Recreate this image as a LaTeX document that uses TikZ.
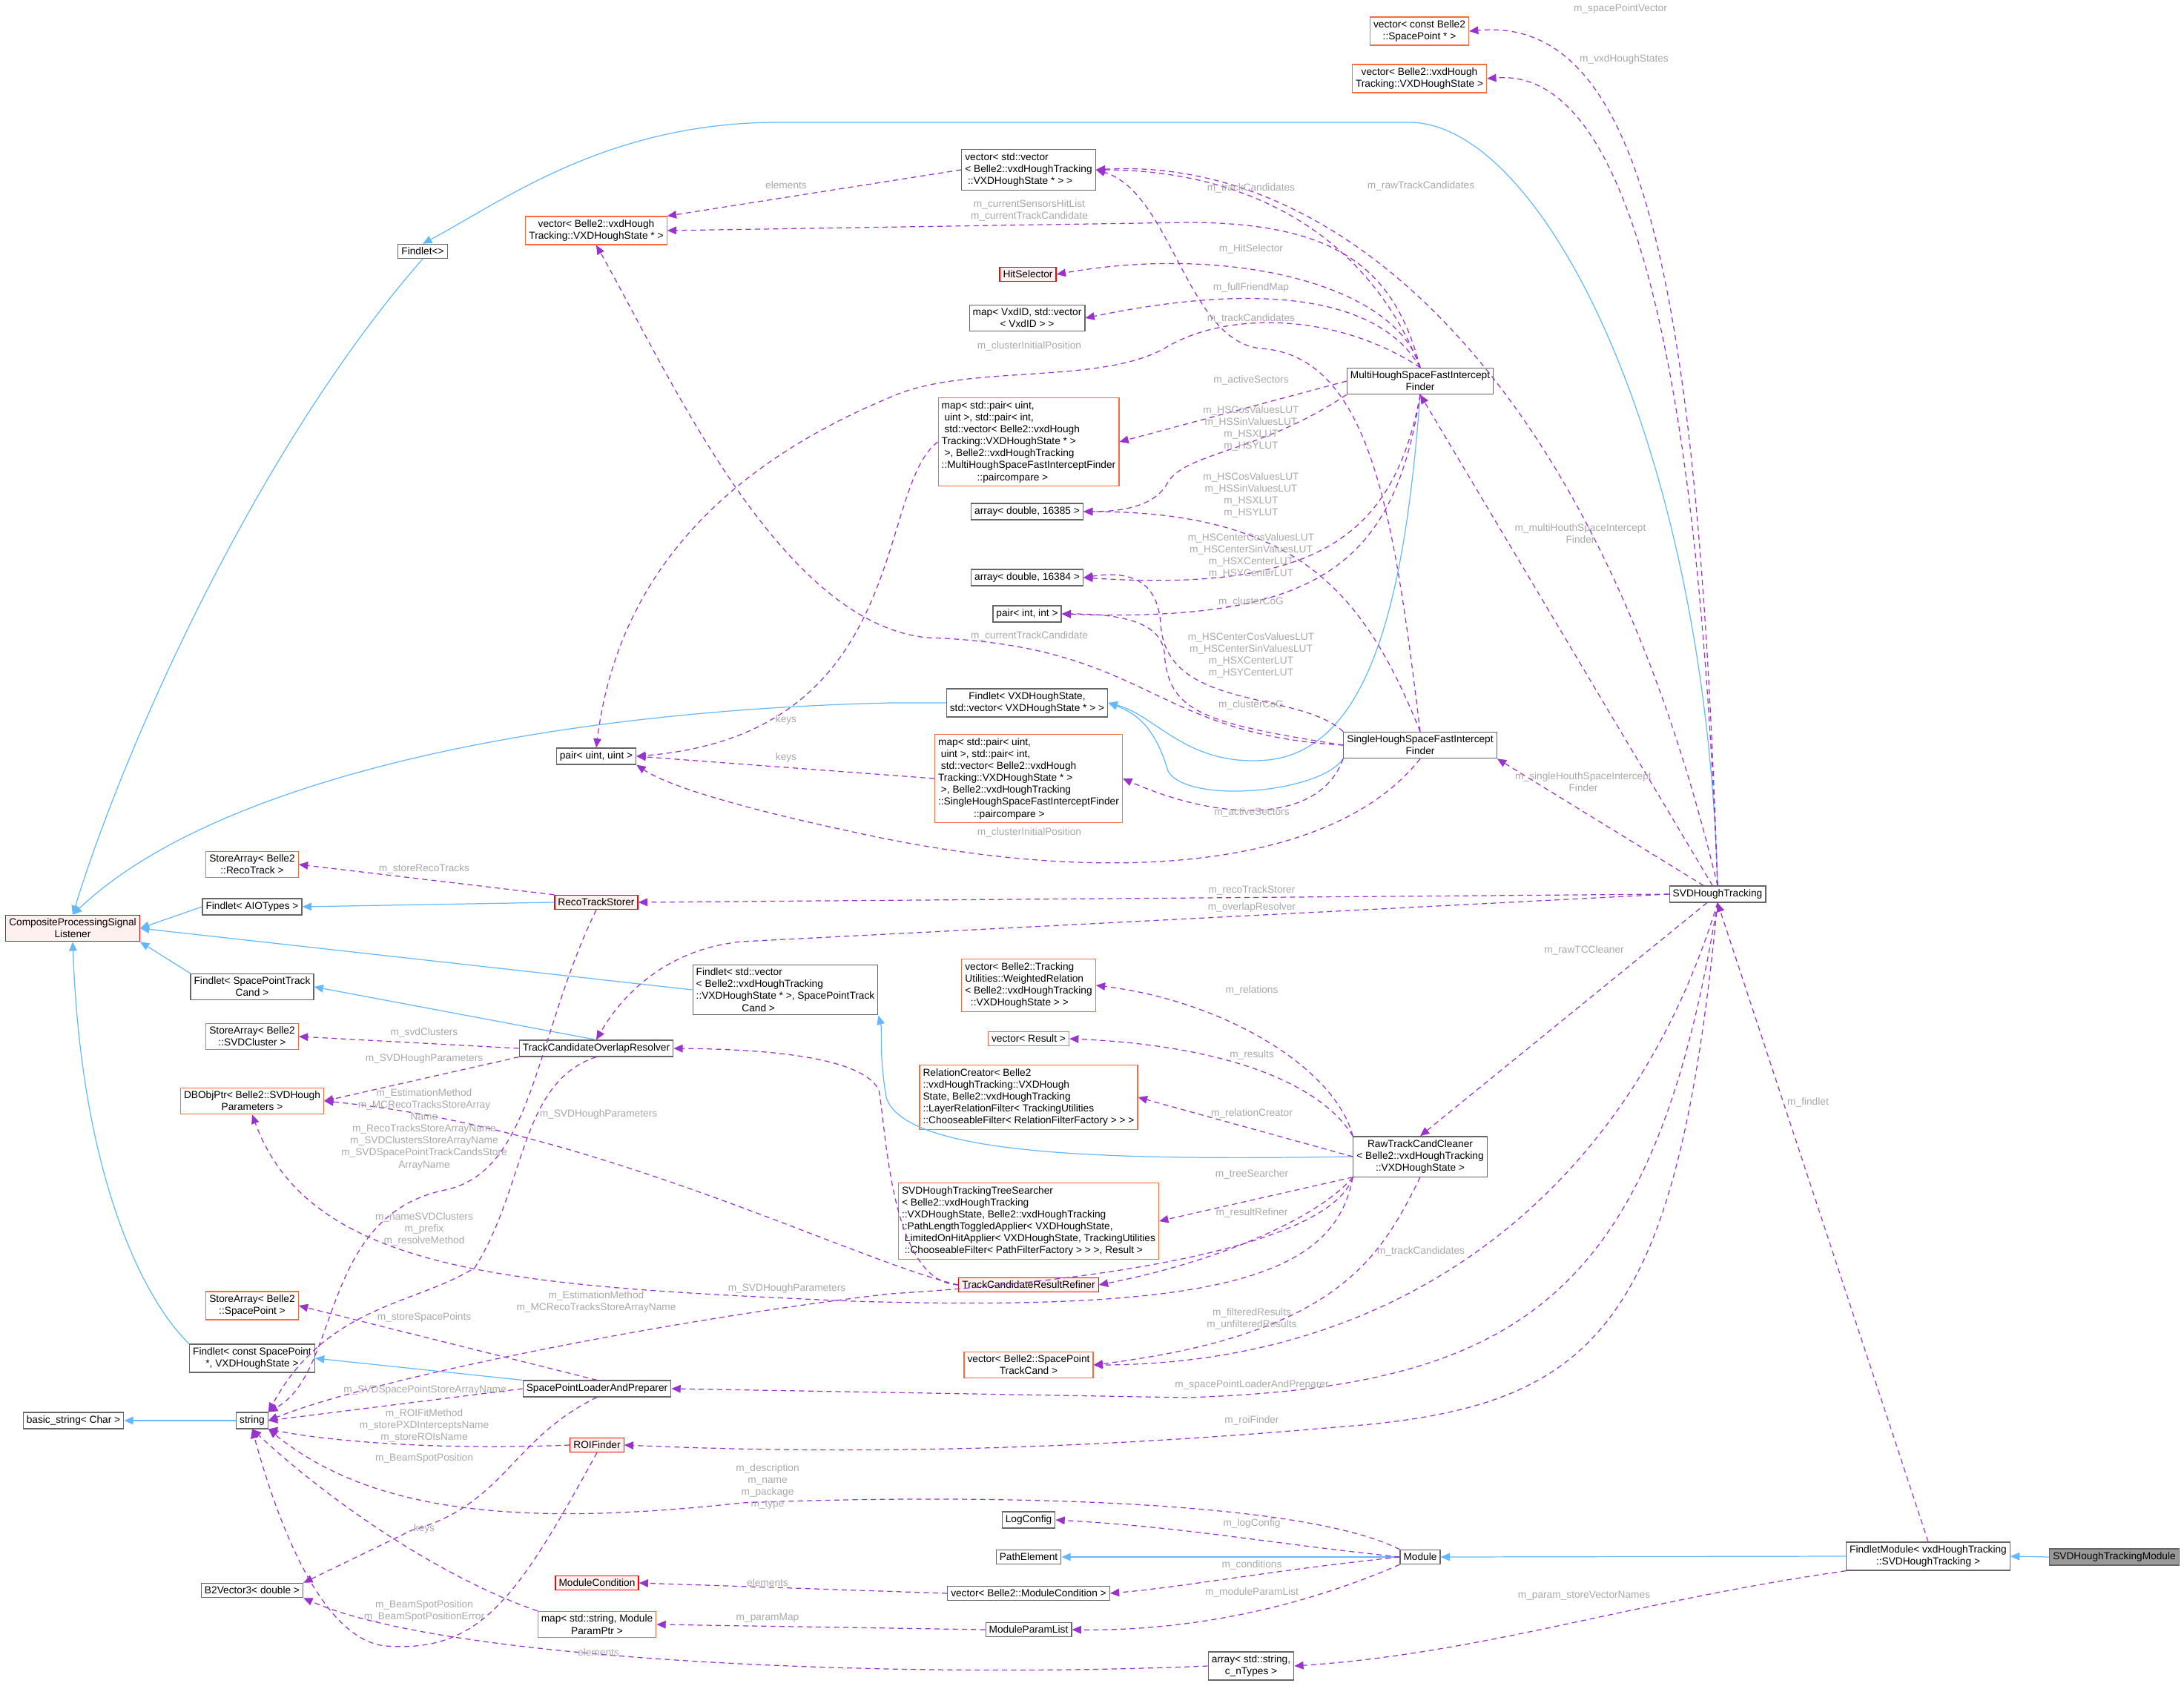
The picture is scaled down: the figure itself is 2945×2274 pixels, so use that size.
\documentclass[tikz,border=0pt]{standalone}
\usepackage{fontspec}
\setmainfont{Liberation Sans}
\usepackage{tikz}
\usetikzlibrary{arrows.meta,calc}
\definecolor{clsgray}{HTML}{666666}
\definecolor{tmplred}{HTML}{FF6A3D}
\definecolor{undocfill}{HTML}{FFF0F0}
\definecolor{inhblue}{HTML}{63B8FF}
\definecolor{usepurple}{HTML}{9A32CD}
\definecolor{lblgray}{HTML}{A8A8A8}
\newcommand{\dxf}{\fontsize{7.8}{9.2}\selectfont}
\tikzstyle{cls}=[rectangle,draw=clsgray,fill=white,inner sep=2.6pt,font=\dxf,align=center,line width=0.7pt]
\tikzstyle{tmpl}=[cls,draw=tmplred]
\tikzstyle{undoc}=[cls,draw=red,fill=undocfill]
\tikzstyle{inh}=[draw=inhblue,line width=0.7pt,-{Triangle[width=6pt,length=7pt]}]
\tikzstyle{use}=[draw=usepurple,line width=0.7pt,dashed,dash pattern=on 4pt off 3pt,-{Triangle[width=6pt,length=7pt]}]
\tikzstyle{lbl}=[text=lblgray,font=\dxf,align=center,inner sep=0]

\begin{document}
\begin{tikzpicture}[x=0.02cm,y=-0.02cm]
\useasboundingbox (0,0) rectangle (2945,2274);
\node[tmpl] (vcsp) at (1914,42) {vector< const Belle2\\::SpacePoint * >};
\node[tmpl] (vvhs) at (1914,106) {vector< Belle2::vxdHough\\Tracking::VXDHoughState >};
\node[cls,align=left] (vvec) at (1387,229) {vector< std::vector\\< Belle2::vxdHoughTracking\\ \ ::VXDHoughState * > >};
\node[cls] (findletbase) at (570,339) {Findlet<>};
\node[tmpl] (vvxd) at (804,311) {vector< Belle2::vxdHough\\Tracking::VXDHoughState * >};
\node[undoc] (hitsel) at (1386,370) {HitSelector};
\node[cls] (mapvxd) at (1385,429) {map< VxdID, std::vector\\< VxdID > >};
\node[cls] (multi) at (1915,514) {MultiHoughSpaceFastIntercept\\Finder};
\node[tmpl,align=left] (mapmulti) at (1387,596) {map< std::pair< uint,\\ \ uint >, std::pair< int,\\ \ std::vector< Belle2::vxdHough\\Tracking::VXDHoughState * >\\ \ >, Belle2::vxdHoughTracking\\::MultiHoughSpaceFastInterceptFinder\\ \hspace{3.5em}::paircompare >};
\node[cls] (arr85) at (1385,690) {array< double, 16385 >};
\node[cls] (arr84) at (1385,779) {array< double, 16384 >};
\node[cls] (pairint) at (1385,828) {pair< int, int >};
\node[cls] (findletvxd) at (1385,948) {Findlet< VXDHoughState,\\std::vector< VXDHoughState * > >};
\node[cls] (pairuint) at (804,1020) {pair< uint, uint >};
\node[cls] (single) at (1915,1005) {SingleHoughSpaceFastIntercept\\Finder};
\node[tmpl,align=left] (mapsingle) at (1387,1050) {map< std::pair< uint,\\ \ uint >, std::pair< int,\\ \ std::vector< Belle2::vxdHough\\Tracking::VXDHoughState * >\\ \ >, Belle2::vxdHoughTracking\\::SingleHoughSpaceFastInterceptFinder\\ \hspace{3.5em}::paircompare >};
\node[tmpl] (storereco) at (340,1166) {StoreArray< Belle2\\::RecoTrack >};
\node[undoc] (reco) at (804,1217) {RecoTrackStorer};
\node[undoc] (cpsl) at (98,1252) {CompositeProcessingSignal\\Listener};
\node[cls] (aio) at (340,1223) {Findlet< AIOTypes >};
\node[cls] (svdht) at (2316,1206) {SVDHoughTracking};
\node[cls,align=left] (findletvec) at (1059,1335) {Findlet< std::vector\\< Belle2::vxdHoughTracking\\::VXDHoughState * >, SpacePointTrack\\ \hspace{4.5em}Cand >};
\node[cls] (findletsptc) at (340,1331) {Findlet< SpacePointTrack\\Cand >};
\node[cls] (tcor) at (804,1414) {TrackCandidateOverlapResolver};
\node[tmpl] (storeclu) at (340,1398) {StoreArray< Belle2\\::SVDCluster >};
\node[tmpl] (db) at (340,1485) {DBObjPtr< Belle2::SVDHough\\Parameters >};
\node[tmpl,align=left] (wrel) at (1387,1329) {vector< Belle2::Tracking\\Utilities::WeightedRelation\\< Belle2::vxdHoughTracking\\ \ \ ::VXDHoughState > >};
\node[tmpl] (vres) at (1387,1401) {vector< Result >};
\node[tmpl,align=left] (relc) at (1387,1480) {RelationCreator< Belle2\\::vxdHoughTracking::VXDHough\\State, Belle2::vxdHoughTracking\\::LayerRelationFilter< TrackingUtilities\\::ChooseableFilter< RelationFilterFactory > > >};
\node[cls] (raw) at (1915,1560) {RawTrackCandCleaner\\< Belle2::vxdHoughTracking\\::VXDHoughState >};
\node[tmpl,align=left] (tree) at (1387,1647) {SVDHoughTrackingTreeSearcher\\< Belle2::vxdHoughTracking\\::VXDHoughState, Belle2::vxdHoughTracking\\::PathLengthToggledApplier< VXDHoughState,\\ \ LimitedOnHitApplier< VXDHoughState, TrackingUtilities\\ \ ::ChooseableFilter< PathFilterFactory > > >, Result >};
\node[undoc] (tcrr) at (1387,1733) {TrackCandidateResultRefiner};
\node[tmpl] (storesp) at (340,1761) {StoreArray< Belle2\\::SpacePoint >};
\node[cls] (findletsp) at (340,1832) {Findlet< const SpacePoint\\*, VXDHoughState >};
\node[tmpl] (vsptc) at (1387,1841) {vector< Belle2::SpacePoint\\TrackCand >};
\node[cls] (splap) at (805,1873) {SpacePointLoaderAndPreparer};
\node[cls] (basic) at (99,1916) {basic\_string< Char >};
\node[cls] (str) at (340,1916) {string};
\node[undoc] (roi) at (805,1949) {ROIFinder};
\node[cls] (logcfg) at (1387,2050) {LogConfig};
\node[cls] (pathel) at (1387,2100) {PathElement};
\node[cls] (module) at (1915,2100) {Module};
\node[cls] (fmod) at (2600,2099) {FindletModule< vxdHoughTracking\\::SVDHoughTracking >};
\node[cls,fill=black!40] (svdmod) at (2851,2100) {SVDHoughTrackingModule};
\node[undoc] (modcond) at (805,2135) {ModuleCondition};
\node[cls] (vmodcond) at (1387,2149) {vector< Belle2::ModuleCondition >};
\node[cls] (b2v) at (340,2145) {B2Vector3< double >};
\node[tmpl] (mapstr) at (805,2191) {map< std::string, Module\\ParamPtr >};
\node[cls] (mpl) at (1387,2198) {ModuleParamList};
\node[cls] (arrstr) at (1687,2247) {array< std::string,\\c\_nTypes >};

\draw[inh] (findletbase.south) .. controls (350,600) and (170,1000) .. (cpsl.north);
\draw[inh] (svdht.north) .. controls (2300,600) and (2080,165) .. (1900,165) -- (1050,165) .. controls (820,165) and (680,270) .. (findletbase.north);
\draw[inh] (multi.south) .. controls (1895,800) and (1850,1010) .. (1710,1025) .. controls (1600,1035) and (1560,965) .. (findletvxd.east);
\draw[inh] (single.south west) .. controls (1780,1070) and (1600,1085) .. (1575,1040) .. controls (1560,990) and (1540,965) .. (findletvxd.east);
\draw[inh] (findletvxd.west) -- (1200,948) .. controls (700,960) and (280,1060) .. (cpsl.north);
\draw[inh] (aio.west) -- (cpsl.east);
\draw[inh] (reco.west) -- (aio.east);
\draw[inh] (findletsptc.north west) -- (cpsl.south east);
\draw[inh] (findletvec.west) -- (cpsl.east);
\draw[inh] (tcor.north) -- (findletsptc.east);
\draw[inh] (raw.west) .. controls (1500,1565) and (1220,1560) .. (1195,1480) .. controls (1185,1420) and (1190,1390) .. (findletvec.south east);
\draw[inh] (findletsp.north west) .. controls (200,1760) and (110,1600) .. (cpsl.south);
\draw[inh] (splap.north west) -- (findletsp.east);
\draw[inh] (str.west) -- (basic.east);
\draw[inh] (module.west) -- (pathel.east);
\draw[inh] (fmod.west) -- (module.east);
\draw[inh] (svdmod.west) -- (fmod.east);

\draw[use] (svdht.north) .. controls (2290,400) and (2220,20) .. (vcsp.east);
\draw[use] (svdht.north) .. controls (2290,500) and (2200,90) .. (vvhs.east);
\draw[use] (svdht.north) .. controls (2150,500) and (1800,210) .. (vvec.east);
\draw[use] (svdht) -- (multi.south);
\draw[use] (svdht) -- (single.south east);
\draw[use] (svdht.west) -- (reco.east);
\draw[use] (svdht.west) -- (1000,1270) .. controls (900,1280) and (840,1340) .. (tcor.north);
\draw[use] (svdht) -- (raw.north);
\draw[use] (svdht.south) .. controls (2200,1600) and (1900,1840) .. (vsptc.east);
\draw[use] (svdht.south) .. controls (2230,1750) and (2050,1870) .. (1600,1885) -- (splap.east);
\draw[use] (svdht.south) .. controls (2260,1800) and (2150,1900) .. (1800,1925) .. controls (1400,1960) and (1100,1960) .. (roi.east);

\draw[use] (multi.north) .. controls (1850,330) and (1700,230) .. (vvec.east);
\draw[use] (multi.north) .. controls (1880,360) and (1800,300) .. (1600,300) -- (vvxd.east);
\draw[use] (multi.north) .. controls (1880,380) and (1650,330) .. (hitsel.east);
\draw[use] (multi.north) .. controls (1860,400) and (1700,380) .. (mapvxd.east);
\draw[use] (multi.north) .. controls (1800,420) and (1650,420) .. (1570,470) .. controls (1480,520) and (1300,490) .. (1200,536) .. controls (950,640) and (830,800) .. (pairuint.north);
\draw[use] (multi.west) -- (mapmulti.east);
\draw[use] (multi.south west) .. controls (1700,610) and (1600,610) .. (1575,650) .. controls (1560,680) and (1520,690) .. (arr85.east);
\draw[use] (multi.south) .. controls (1880,720) and (1780,800) .. (arr84.east);
\draw[use] (multi.south) .. controls (1880,760) and (1780,840) .. (pairint.east);

\draw[use] (single.north) .. controls (1880,700) and (1850,480) .. (1700,470) .. controls (1600,460) and (1580,260) .. (vvec.east);
\draw[use] (single.west) .. controls (1550,990) and (1550,870) .. (1250,860) .. controls (1050,840) and (900,500) .. (vvxd.south);
\draw[use] (single.north) .. controls (1840,800) and (1750,690) .. (arr85.east);
\draw[use] (single.north west) .. controls (1750,930) and (1570,960) .. (1565,840) .. controls (1560,780) and (1520,770) .. (arr84.east);
\draw[use] (single.west) .. controls (1620,975) and (1575,960) .. (1570,880) .. controls (1565,835) and (1500,828) .. (pairint.east);
\draw[use] (single.south west) .. controls (1780,1110) and (1650,1110) .. (mapsingle.east);
\draw[use] (single.south) .. controls (1800,1170) and (1500,1200) .. (1150,1122) .. controls (1000,1090) and (900,1060) .. (pairuint.south east);

\draw[use] (vvec.west) -- (vvxd.north east);
\draw[use] (mapmulti.west) .. controls (1180,660) and (1230,990) .. (pairuint.east);
\draw[use] (mapsingle.west) -- (pairuint.east);

\draw[use] (reco.north west) -- (storereco.east);
\draw[use] (reco.south) .. controls (720,1400) and (720,1580) .. (600,1605) .. controls (430,1640) and (460,1850) .. (str.north east);
\draw[use] (tcor.west) -- (storeclu.east);
\draw[use] (tcor.south west) -- (db.east);
\draw[use] (tcor.south) .. controls (700,1460) and (710,1600) .. (640,1710) .. controls (560,1760) and (440,1760) .. (str.north east);

\draw[use] (raw.north west) .. controls (1800,1440) and (1650,1350) .. (wrel.east);
\draw[use] (raw.north west) .. controls (1780,1460) and (1650,1410) .. (vres.east);
\draw[use] (raw.west) -- (relc.east);
\draw[use] (raw.south west) -- (tree.east);
\draw[use] (raw.south west) .. controls (1780,1640) and (1650,1700) .. (tcrr.east);
\draw[use] (raw.south) .. controls (1860,1700) and (1800,1800) .. (vsptc.east);
\draw[use] (raw.south west) .. controls (1800,1720) and (1650,1770) .. (1150,1755) .. controls (700,1735) and (420,1720) .. (db.south);
\draw[use] (raw.south west) .. controls (1800,1660) and (1600,1720) .. (1200,1745) .. controls (900,1780) and (500,1860) .. (str.east);

\draw[use] (tcrr.west) .. controls (1200,1730) and (1195,1520) .. (1185,1470) .. controls (1160,1420) and (1000,1415) .. (tcor.east);
\draw[use] (tcrr.west) .. controls (1150,1700) and (800,1520) .. (db.east);

\draw[use] (splap.north) -- (storesp.east);
\draw[use] (splap.west) -- (str.east);
\draw[use] (splap.south) .. controls (690,1940) and (680,2030) .. (555,2064) -- (b2v.north east);
\draw[use] (roi.west) .. controls (600,1956) and (450,1945) .. (str.south east);
\draw[use] (roi.south) .. controls (700,2150) and (650,2230) .. (520,2220) .. controls (420,2210) and (360,2000) .. (str.south);

\draw[use] (module.north west) .. controls (1750,2020) and (1300,2015) .. (1000,2027) .. controls (700,2060) and (500,2040) .. (str.south east);
\draw[use] (module.west) .. controls (1700,2080) and (1600,2060) .. (logcfg.east);
\draw[use] (module.west) .. controls (1700,2120) and (1600,2140) .. (vmodcond.east);
\draw[use] (module.south west) .. controls (1750,2170) and (1600,2200) .. (mpl.east);
\draw[use] (vmodcond.west) -- (modcond.east);
\draw[use] (mpl.west) -- (mapstr.east);
\draw[use] (mapstr.north west) .. controls (600,2130) and (450,2030) .. (str.south);
\draw[use] (arrstr.west) .. controls (1200,2265) and (600,2240) .. (b2v.south east);
\draw[use] (fmod.north) -- (svdht.south);
\draw[use] (fmod.south west) .. controls (2200,2160) and (2000,2230) .. (arrstr.east);

\node[lbl] (l1) at (2185,12) {m\_spacePointVector};
\node[lbl] (l2) at (2190,80) {m\_vxdHoughStates};
\node[lbl] (l3) at (1916,251) {m\_rawTrackCandidates};
\node[lbl] (l4) at (1687,254) {m\_trackCandidates};
\node[lbl] (l5) at (1388,284) {m\_currentSensorsHitList\\m\_currentTrackCandidate};
\node[lbl] (l6) at (1060,250) {elements};
\node[lbl] (l7) at (1687,336) {m\_HitSelector};
\node[lbl] (l8) at (1687,388) {m\_fullFriendMap};
\node[lbl] (l9) at (1687,430) {m\_trackCandidates};
\node[lbl] (l10) at (1388,467) {m\_clusterInitialPosition};
\node[lbl] (l11) at (1687,513) {m\_activeSectors};
\node[lbl] (l12) at (1687,578) {m\_HSCosValuesLUT\\m\_HSSinValuesLUT\\m\_HSXLUT\\m\_HSYLUT};
\node[lbl] (l13) at (1687,668) {m\_HSCosValuesLUT\\m\_HSSinValuesLUT\\m\_HSXLUT\\m\_HSYLUT};
\node[lbl] (l14) at (1687,750) {m\_HSCenterCosValuesLUT\\m\_HSCenterSinValuesLUT\\m\_HSXCenterLUT\\m\_HSYCenterLUT};
\node[lbl] (l15) at (1687,812) {m\_clusterCoG};
\node[lbl] (l16) at (1388,858) {m\_currentTrackCandidate};
\node[lbl] (l17) at (1687,884) {m\_HSCenterCosValuesLUT\\m\_HSCenterSinValuesLUT\\m\_HSXCenterLUT\\m\_HSYCenterLUT};
\node[lbl] (l18) at (1687,951) {m\_clusterCoG};
\node[lbl] (l19) at (1060,971) {keys};
\node[lbl] (l20) at (1060,1022) {keys};
\node[lbl] (l21) at (1688,1096) {m\_activeSectors};
\node[lbl] (l22) at (1388,1123) {m\_clusterInitialPosition};
\node[lbl] (l23) at (2131,720) {m\_multiHouthSpaceIntercept\\Finder};
\node[lbl] (l24) at (2135,1055) {m\_singleHouthSpaceIntercept\\Finder};
\node[lbl] (l25) at (1688,1201) {m\_recoTrackStorer};
\node[lbl] (l26) at (1688,1224) {m\_overlapResolver};
\node[lbl] (l27) at (2136,1282) {m\_rawTCCleaner};
\node[lbl] (l28) at (1688,1336) {m\_relations};
\node[lbl] (l29) at (1688,1423) {m\_results};
\node[lbl] (l30) at (1688,1502) {m\_relationCreator};
\node[lbl] (l31) at (1688,1584) {m\_treeSearcher};
\node[lbl] (l32) at (1688,1636) {m\_resultRefiner};
\node[lbl] (l33) at (1916,1688) {m\_trackCandidates};
\node[lbl] (l34) at (1688,1779) {m\_filteredResults\\m\_unfilteredResults};
\node[lbl] (l35) at (1688,1868) {m\_spacePointLoaderAndPreparer};
\node[lbl] (l36) at (1688,1916) {m\_roiFinder};
\node[lbl] (l37) at (2438,1487) {m\_findlet};
\node[lbl] (l38) at (1688,2055) {m\_logConfig};
\node[lbl] (l39) at (1688,2111) {m\_conditions};
\node[lbl] (l40) at (1688,2148) {m\_moduleParamList};
\node[lbl] (l41) at (2136,2152) {m\_param\_storeVectorNames};
\node[lbl] (l42) at (572,1172) {m\_storeRecoTracks};
\node[lbl] (l43) at (572,1393) {m\_svdClusters};
\node[lbl] (l44) at (572,1428) {m\_SVDHoughParameters};
\node[lbl] (l45) at (572,1523) {m\_EstimationMethod\\m\_MCRecoTracksStoreArray\\Name\\m\_RecoTracksStoreArrayName\\m\_SVDClustersStoreArrayName\\m\_SVDSpacePointTrackCandsStore\\ArrayName};
\node[lbl] (l46) at (807,1503) {m\_SVDHoughParameters};
\node[lbl] (l47) at (572,1658) {m\_nameSVDClusters\\m\_prefix\\m\_resolveMethod};
\node[lbl] (l48) at (1061,1738) {m\_SVDHoughParameters};
\node[lbl] (l49) at (804,1756) {m\_EstimationMethod\\m\_MCRecoTracksStoreArrayName};
\node[lbl] (l50) at (572,1777) {m\_storeSpacePoints};
\node[lbl] (l51) at (573,1875) {m\_SVDSpacePointStoreArrayName};
\node[lbl] (l52) at (572,1923) {m\_ROIFitMethod\\m\_storePXDInterceptsName\\m\_storeROIsName};
\node[lbl] (l53) at (572,1967) {m\_BeamSpotPosition};
\node[lbl] (l54) at (572,2062) {keys};
\node[lbl] (l55) at (572,2173) {m\_BeamSpotPosition\\m\_BeamSpotPositionError};
\node[lbl] (l56) at (807,2229) {elements};
\node[lbl] (l57) at (1035,2005) {m\_description\\m\_name\\m\_package\\m\_type};
\node[lbl] (l58) at (1035,2135) {elements};
\node[lbl] (l59) at (1035,2182) {m\_paramMap};
\end{tikzpicture}
\end{document}
